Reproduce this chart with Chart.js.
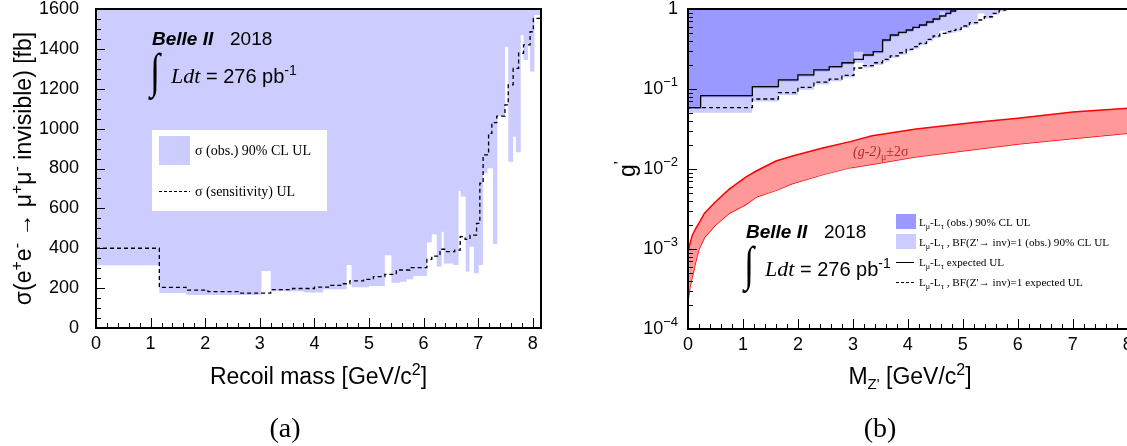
<!DOCTYPE html>
<html>
<head>
<meta charset="utf-8">
<script src="https://cdn.jsdelivr.net/npm/chart.js@4.4.1/dist/chart.umd.min.js"></script>
<style>
  html, body { margin: 0; padding: 0; background: #fff; overflow: hidden; width: 1127px; height: 446px; }
  #wrapA { position: absolute; left: 0; top: 0; }
  #wrapB { position: absolute; left: 560px; top: 0; }
</style>
</head>
<body>
<div id="wrapA"><canvas id="chartA" width="560" height="446"></canvas></div>
<div id="wrapB"><canvas id="chartB" width="600" height="446"></canvas></div>
<script>
// ====== (a) recoil mass: bin left edges + values ======
const recoilEdges = [0, 1.16, 1.65, 3.03, 3.2, 3.8, 4.16, 4.59, 4.68, 5.0, 5.29, 5.41, 5.57, 5.69, 5.81, 6.06, 6.15, 6.24, 6.33, 6.37, 6.54, 6.64, 6.68, 6.77, 6.84, 6.92, 7.01, 7.09, 7.17, 7.27, 7.35, 7.49, 7.55, 7.64, 7.69, 7.78, 7.83, 7.91, 7.95, 8.03];
const sigmaObs = [315, 176, 166, 286, 184, 178, 194, 316, 204, 211, 365, 227, 232, 244, 261, 430, 470, 308, 483, 324, 316, 687, 659, 283, 408, 274, 316, 776, 801, 421, 1063, 1411, 834, 960, 881, 1470, 1344, 1428, 1286, 1570];
const sensEdges = [0, 1.16, 1.65, 2.05, 2.6, 3.2, 3.6, 4.0, 4.3, 4.5, 4.65, 4.9, 5.08, 5.29, 5.5, 5.75, 6.06, 6.15, 6.3, 6.42, 6.57, 6.67, 6.76, 6.85, 6.97, 7.03, 7.09, 7.19, 7.25, 7.34, 7.49, 7.55, 7.64, 7.74, 7.83, 7.95, 8.01];
const sigmaSens = [400, 204, 190, 182, 175, 192, 198, 205, 214, 222, 236, 244, 258, 269, 291, 303, 344, 361, 395, 383, 391, 458, 445, 466, 525, 726, 868, 976, 1030, 1063, 1119, 1219, 1302, 1378, 1420, 1486, 1553];

// ====== (b) Z' mass: bin left edges + g' limits ======
const zEdges = [0, 0.23, 1.17, 1.645, 2.0, 2.29, 2.57, 2.80, 3.02, 3.19, 3.37, 3.54, 3.68, 3.83, 3.97, 4.09, 4.21, 4.34, 4.46, 4.58, 4.69, 4.78, 4.87, 4.97, 5.12, 5.27, 5.39, 5.54, 5.66, 5.78, 5.9];
const gObs = [0.057, 0.079, 0.102, 0.124, 0.143, 0.165, 0.182, 0.204, 0.293, 0.255, 0.28, 0.39, 0.45, 0.49, 0.52, 0.565, 0.605, 0.66, 0.72, 0.94, 0.85, 0.91, 0.97, 1, 1, 1, 1, 1, 1, 1, 1];
const gObsInv = [0.0506, 0.0506, 0.070, 0.084, 0.098, 0.114, 0.125, 0.139, 0.213, 0.184, 0.200, 0.221, 0.245, 0.268, 0.296, 0.318, 0.352, 0.395, 0.435, 0.535, 0.49, 0.505, 0.525, 0.58, 0.64, 0.88, 0.76, 0.84, 0.93, 0.98, 1];
const gExp = [0.0584, 0.0825, 0.107, 0.130, 0.150, 0.173, 0.190, 0.213, 0.235, 0.266, 0.293, 0.41, 0.473, 0.511, 0.546, 0.590, 0.631, 0.688, 0.75, 0.818, 0.883, 0.944, 1.0, null, null, null, null, null, null, null, null];
const gExpInv = [0.0584, 0.0584, 0.075, 0.090, 0.105, 0.122, 0.133, 0.148, 0.183, 0.196, 0.213, 0.235, 0.259, 0.284, 0.313, 0.338, 0.372, 0.418, 0.46, 0.496, 0.521, 0.54, 0.557, 0.613, 0.675, 0.729, 0.80, 0.883, 0.97, 1.0, null];

// ====== (g-2) band ======
const g2Mass = [0, 0.04, 0.08, 0.15, 0.2, 0.3, 0.5, 0.75, 1.05, 1.25, 1.6, 1.9, 2.45, 2.95, 3.35, 4.15, 5.2, 6.0, 7.0, 8.0, 8.15];
const g2Upper = [9e-4, 1.2e-3, 1.5e-3, 1.85e-3, 2.1e-3, 2.8e-3, 3.9e-3, 5.6e-3, 7.9e-3, 9.5e-3, 1.26e-2, 1.45e-2, 1.83e-2, 2.2e-2, 2.6e-2, 3.16e-2, 3.8e-2, 4.3e-2, 5.15e-2, 5.75e-2, 5.8e-2];
const g2Lower = [2.3e-4, 3.5e-4, 4.6e-4, 7.5e-4, 1.0e-3, 1.4e-3, 2.0e-3, 2.8e-3, 3.6e-3, 4.5e-3, 5.4e-3, 6.6e-3, 8.5e-3, 1.04e-2, 1.15e-2, 1.42e-2, 1.75e-2, 2.05e-2, 2.4e-2, 2.8e-2, 2.85e-2];

const X_MAX = 8.15;
const SANS = '"Liberation Sans", Arial, sans-serif';
const SERIF = '"Liberation Serif", "Times New Roman", serif';

// histogram bins -> points for a stepped line
function stepPoints(edges, vals) {
  const pts = edges.map((x, i) => ({ x, y: vals[i] }));
  pts.push({ x: X_MAX, y: vals[vals.length - 1] });
  return pts;
}

// text made of pieces: [text, font, dy]
function rich(ctx, x, y, parts, align) {
  ctx.textAlign = 'left';
  let w = 0;
  parts.forEach((p) => { ctx.font = p[1]; w += ctx.measureText(p[0]).width; });
  let cx = align === 'center' ? x - w / 2 : align === 'right' ? x - w : x;
  parts.forEach((p) => {
    ctx.font = p[1];
    ctx.fillText(p[0], cx, y + (p[2] || 0));
    cx += ctx.measureText(p[0]).width;
  });
}

// ROOT style frame with inward ticks on bottom/left
function drawFrame(chart, yLog) {
  const { ctx, chartArea: a, scales } = chart;
  const xs = scales.x, ys = scales.y;
  ctx.save();
  ctx.strokeStyle = '#000';
  ctx.lineWidth = 1;
  ctx.beginPath();
  for (let i = 0; i <= 40; i++) {
    const v = i * 0.2;
    if (v > xs.max) break;
    const px = Math.round(xs.getPixelForValue(v)) + 0.5;
    const len = i % 5 === 0 ? 10 : 5;
    ctx.moveTo(px, a.bottom);
    ctx.lineTo(px, a.bottom - len);
  }
  const yTicks = [];
  if (yLog) {
    for (let e = -4; e < 0; e++) for (let m = 1; m <= 9; m++) yTicks.push([m * Math.pow(10, e), m === 1]);
    yTicks.push([1, true]);
  } else {
    for (let i = 0; i <= 32; i++) yTicks.push([i * 50, i % 4 === 0]);
  }
  yTicks.forEach(([v, major]) => {
    const py = Math.round(ys.getPixelForValue(v)) + 0.5;
    ctx.moveTo(a.left, py);
    ctx.lineTo(a.left + (major ? 9 : 5), py);
  });
  ctx.stroke();
  ctx.lineWidth = 2;
  ctx.strokeRect(a.left, a.top, a.right - a.left, a.bottom - a.top);
  ctx.restore();
}

function integralLabel(ctx, x, y) {
  ctx.save();
  ctx.fillStyle = '#000';
  ctx.textBaseline = 'alphabetic';
  ctx.font = `italic bold 19px ${SANS}`;
  ctx.fillText('Belle II', x, y);
  ctx.font = `19px ${SANS}`;
  ctx.fillText('2018', x + 78, y);
  ctx.save();
  ctx.translate(x - 2, y + 42);
  ctx.scale(1, 1.35);
  ctx.font = `36px ${SERIF}`;
  ctx.fillText('\u222B', 0, 0);
  ctx.restore();
  rich(ctx, x + 19, y + 38, [
    ['Ldt', `italic 22px ${SERIF}`],
    [' = 276 pb', `20px ${SANS}`],
    ['-1', `14px ${SANS}`, -8],
  ]);
  ctx.restore();
}

function baseScales(yOpts, yWidth, xHeight) {
  return {
    x: {
      type: 'linear', min: 0, max: X_MAX,
      grid: { display: false }, border: { display: false },
      ticks: {
        stepSize: 1, includeBounds: false, padding: -3, color: '#000',
        font: { family: SANS, size: 18 },
        callback: (v) => (Number.isInteger(v) ? String(v) : ''),
      },
      afterFit: (s) => { s.height = xHeight; s.paddingLeft = 0; s.paddingRight = 0; },
    },
    y: Object.assign({
      grid: { display: false }, border: { display: false },
      afterFit: (s) => { s.width = yWidth; s.paddingTop = 0; s.paddingBottom = 0; },
    }, yOpts),
  };
}

// ====== Chart (a) ======
new Chart(document.getElementById('chartA'), {
  type: 'line',
  data: {
    datasets: [
      {
        data: stepPoints(sensEdges, sigmaSens),
        stepped: 'before', borderColor: '#000', borderWidth: 1.3,
        borderDash: [4, 3], pointRadius: 0, fill: false,
      },
      {
        data: stepPoints(recoilEdges, sigmaObs),
        stepped: 'before', borderWidth: 0, pointRadius: 0,
        backgroundColor: '#ccccff', fill: 'end',
      },
    ],
  },
  options: {
    responsive: false, animation: false, devicePixelRatio: 1,
    layout: { padding: { left: 0, right: 19, top: 9, bottom: 0 } },
    plugins: { legend: { display: false }, tooltip: { enabled: false } },
    scales: baseScales({
      type: 'linear', min: 0, max: 1600,
      ticks: {
        stepSize: 200, padding: 9, color: '#000', font: { family: SANS, size: 18 },
        callback: (v) => String(v),
      },
    }, 96, 118),
  },
  plugins: [{
    id: 'annotA',
    afterDraw(chart) {
      const ctx = chart.ctx;
      drawFrame(chart, false);
      ctx.save();
      ctx.fillStyle = '#000';
      ctx.textBaseline = 'alphabetic';
      // axis titles
      rich(ctx, 318.5, 384, [
        ['Recoil mass [GeV/c', `23px ${SANS}`],
        ['2', `16px ${SANS}`, -9],
        [']', `23px ${SANS}`],
      ], 'center');
      ctx.save();
      ctx.translate(31, 168.5);
      ctx.rotate(-Math.PI / 2);
      const f = `23px ${SANS}`, fs = `16px ${SANS}`;
      rich(ctx, 0, 0, [
        ['\u03C3(e', f], ['+', fs, -9], ['e', f], ['-', fs, -9],
        [' \u2192 \u03BC', f], ['+', fs, -9], ['\u03BC', f], ['-', fs, -9],
        [' invisible) [fb]', f],
      ], 'center');
      ctx.restore();
      // legend box
      ctx.fillStyle = '#fff';
      ctx.fillRect(152, 130, 175, 81);
      ctx.fillStyle = '#ccccff';
      ctx.fillRect(159, 136, 31, 29);
      ctx.strokeStyle = '#000';
      ctx.lineWidth = 1.2;
      ctx.setLineDash([3, 2]);
      ctx.beginPath();
      ctx.moveTo(159, 191.5);
      ctx.lineTo(190, 191.5);
      ctx.stroke();
      ctx.setLineDash([]);
      ctx.fillStyle = '#000';
      ctx.font = `14px ${SERIF}`;
      ctx.textAlign = 'left';
      ctx.fillText('\u03C3 (obs.) 90% CL UL', 195, 155);
      ctx.fillText('\u03C3 (sensitivity) UL', 195, 196);
      // caption
      ctx.font = `28px ${SERIF}`;
      ctx.textAlign = 'center';
      ctx.fillText('(a)', 285, 437);
      ctx.restore();
      integralLabel(ctx, 152, 45);
    },
  }],
});

// ====== Chart (b) ======
const OFF_B = 560;
new Chart(document.getElementById('chartB'), {
  type: 'line',
  data: {
    datasets: [
      {
        data: stepPoints(zEdges, gExp),
        stepped: 'before', borderColor: '#000', borderWidth: 1.3,
        pointRadius: 0, fill: false, spanGaps: false,
      },
      {
        data: stepPoints(zEdges, gExpInv),
        stepped: 'before', borderColor: '#000', borderWidth: 1.3, borderDash: [4, 3],
        pointRadius: 0, fill: false, spanGaps: false,
      },
      {
        data: stepPoints(zEdges, gObs),
        stepped: 'before', borderWidth: 0, pointRadius: 0,
        backgroundColor: '#9999ff', fill: 'end',
      },
      {
        data: stepPoints(zEdges, gObsInv),
        stepped: 'before', borderWidth: 0, pointRadius: 0,
        backgroundColor: '#ccccff', fill: 'end',
      },
      {
        data: g2Mass.map((x, i) => ({ x, y: g2Upper[i] })),
        borderColor: '#ff0000', borderWidth: 1.5, pointRadius: 0, tension: 0,
        backgroundColor: '#ff9999', fill: '+1',
      },
      {
        data: g2Mass.map((x, i) => ({ x, y: g2Lower[i] })),
        borderColor: '#ff0000', borderWidth: 1.5, pointRadius: 0, tension: 0, fill: false,
      },
    ],
  },
  options: {
    responsive: false, animation: false, devicePixelRatio: 1,
    layout: { padding: { left: 0, right: 24, top: 9, bottom: 0 } },
    plugins: { legend: { display: false }, tooltip: { enabled: false } },
    scales: baseScales({
      type: 'logarithmic', min: 1e-4, max: 1,
      ticks: { display: false },
    }, 128, 117),
  },
  plugins: [{
    id: 'annotB',
    afterDraw(chart) {
      const ctx = chart.ctx;
      const ys = chart.scales.y;
      drawFrame(chart, true);
      ctx.save();
      ctx.translate(-OFF_B, 0);
      ctx.fillStyle = '#000';
      // log tick labels
      ctx.textBaseline = 'middle';
      const labX = 678;
      for (let e = -4; e <= 0; e++) {
        const py = ys.getPixelForValue(Math.pow(10, e));
        if (e === 0) rich(ctx, labX, py, [['1', `18px ${SANS}`]], 'right');
        else rich(ctx, labX, py, [['10', `18px ${SANS}`], ['\u2212' + (-e), `13px ${SANS}`, -7]], 'right');
      }
      ctx.textBaseline = 'alphabetic';
      // axis titles
      rich(ctx, 910, 384, [
        ['M', `23px ${SANS}`],
        ["Z'", `15px ${SANS}`, 5],
        [' [GeV/c', `23px ${SANS}`],
        ['2', `16px ${SANS}`, -9],
        [']', `23px ${SANS}`],
      ], 'center');
      ctx.save();
      ctx.translate(635, 169);
      ctx.rotate(-Math.PI / 2);
      rich(ctx, 0, 0, [['g', `23px ${SANS}`], ["'", `16px ${SANS}`, -9]], 'center');
      ctx.restore();
      // (g-2) label
      ctx.fillStyle = '#b22a2a';
      rich(ctx, 853, 156, [
        ['(g-2)', `italic 14px ${SERIF}`],
        ['\u03BC', `10px ${SERIF}`, 4],
        ['\u00B12\u03C3', `14px ${SERIF}`],
      ]);
      // legend
      ctx.fillStyle = '#9999ff';
      ctx.fillRect(896, 214, 20, 15);
      ctx.fillStyle = '#ccccff';
      ctx.fillRect(896, 234, 20, 15);
      ctx.strokeStyle = '#000';
      ctx.lineWidth = 1;
      ctx.beginPath();
      ctx.moveTo(896, 262.5);
      ctx.lineTo(914, 262.5);
      ctx.stroke();
      ctx.setLineDash([3, 2]);
      ctx.beginPath();
      ctx.moveTo(896, 282.5);
      ctx.lineTo(914, 282.5);
      ctx.stroke();
      ctx.setLineDash([]);
      ctx.fillStyle = '#000';
      const lf = `11.2px ${SERIF}`, ls = `8px ${SERIF}`;
      const lmt = [['L', lf], ['\u03BC', ls, 3], ['-L', lf], ['\u03C4', ls, 3]];
      rich(ctx, 919, 226, lmt.concat([[' (obs.) 90% CL UL', lf]]));
      rich(ctx, 919, 246, lmt.concat([[" , BF(Z'\u2192 inv)=1 (obs.) 90% CL UL", lf]]));
      rich(ctx, 919, 266, lmt.concat([[' expected UL', lf]]));
      rich(ctx, 919, 286, lmt.concat([[" , BF(Z'\u2192 inv)=1 expected UL", lf]]));
      // caption
      ctx.font = `28px ${SERIF}`;
      ctx.textAlign = 'center';
      ctx.fillText('(b)', 880, 437);
      ctx.restore();
      ctx.save();
      ctx.translate(-OFF_B, 0);
      integralLabel(ctx, 746, 238);
      ctx.restore();
    },
  }],
});
</script>
</body>
</html>
